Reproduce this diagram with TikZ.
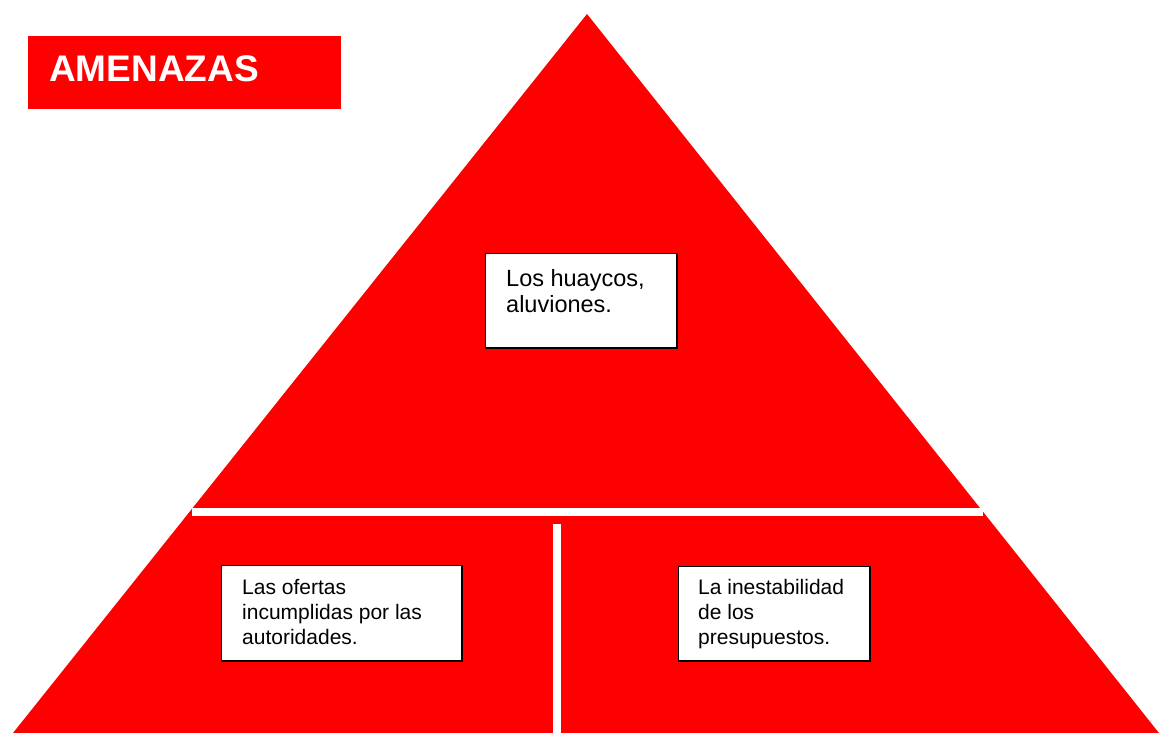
\documentclass[tikz,border=0pt]{standalone}
\usepackage{fontspec}
\setmainfont{Liberation Sans}
\begin{document}
\begin{tikzpicture}[x=1pt,y=-1pt,
  redfill/.style={fill=red,draw=none},
  whitebar/.style={draw=white,line width=8pt},
  wbox/.style={draw=black,line width=1.5pt,fill=white,inner sep=0pt,anchor=north west},
  txt/.style={anchor=north west,inner sep=0pt,align=left,text=black},
  bigtxt/.style={txt,font=\fontsize{23.5}{25.3}\selectfont},
  smalltxt/.style={txt,font=\fontsize{21}{25}\selectfont}]
\useasboundingbox (0,0) rectangle (1159,733);
% pyramid
\fill[redfill] (587,14) -- (13,733) -- (1159,733) -- cycle;
\draw[whitebar] (192,512) -- (983,512);
\draw[whitebar] (557,524) -- (557,733);
% title
\node[redfill,anchor=north west,inner sep=0pt,minimum width=313pt,minimum height=73pt] (titlebox) at (28,36) {};
\node[anchor=north west,inner sep=0pt,text=white,font=\bfseries\fontsize{37}{40}\selectfont] (title) at (49,55.5) {AMENAZAS};
% boxes
\node[wbox,minimum width=191.5pt,minimum height=94.5pt] (b1) at (484.75,252.75) {};
\node[bigtxt] (t1) at (506,269.5) {Los huaycos,\\aluviones.};
\node[wbox,minimum width=240.5pt,minimum height=95.5pt] (b2) at (220.75,564.75) {};
\node[smalltxt] (t2) at (242,579) {Las ofertas\\incumplidas por las\\autoridades.};
\node[wbox,minimum width=191.5pt,minimum height=94.5pt] (b3) at (677.75,565.75) {};
\node[smalltxt] (t3) at (698,579) {La inestabilidad\\de los\\presupuestos.};
\end{tikzpicture}
\end{document}
